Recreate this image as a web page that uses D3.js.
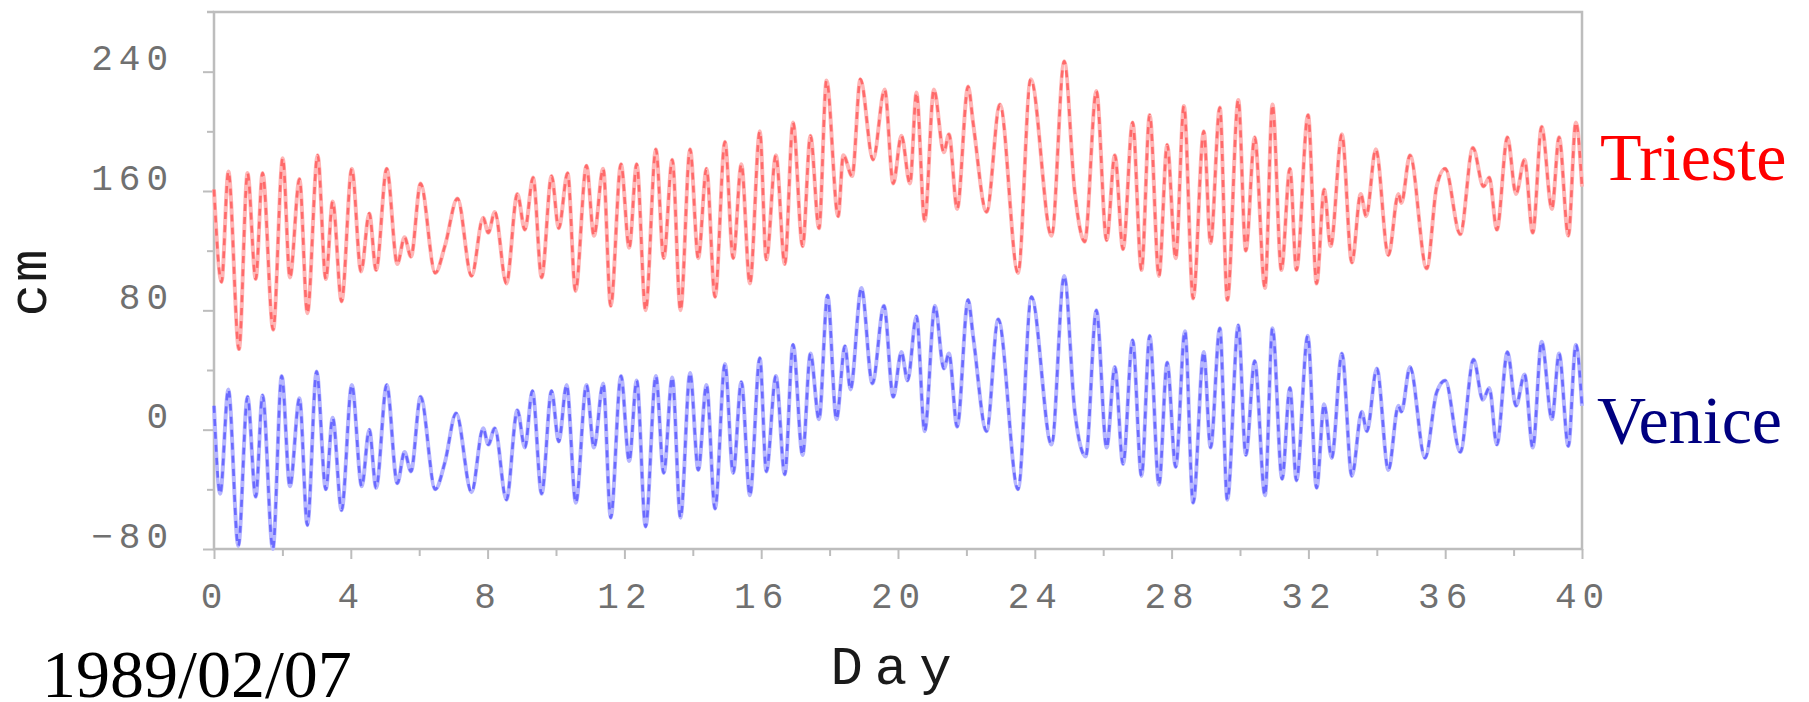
<!DOCTYPE html>
<html>
<head>
<meta charset="utf-8">
<title>Trieste / Venice sea level</title>
<script src="https://d3js.org/d3.v7.min.js"></script>
<style>
body { margin: 0; background: #fff; }
svg { display: block; }
.tick-label { font-family: "Liberation Mono", monospace; font-size: 36px; fill: #707070; letter-spacing: 6px; }
.axis-title { font-family: "Liberation Mono", monospace; fill: #1a1a1a; }
.station { font-family: "Liberation Serif", "Times New Roman", serif; font-size: 68px; }
</style>
</head>
<body>
<script>
// turning points (day, cm)
var triesteDay = [0.0,0.22,0.42,0.73,0.98,1.22,1.42,1.73,2.01,2.22,2.5,2.73,3.03,3.27,3.47,3.73,4.03,4.3,4.54,4.74,
  5.05,5.36,5.57,5.76,6.04,6.47,6.75,7.12,7.53,7.87,8.02,8.21,8.55,8.87,9.09,9.33,9.58,9.87,10.08,10.34,
  10.57,10.89,11.11,11.38,11.6,11.9,12.14,12.36,12.62,12.92,13.15,13.4,13.64,13.92,14.16,14.4,14.65,14.94,15.18,15.42,
  15.67,15.96,16.15,16.43,16.69,16.93,17.21,17.44,17.69,17.91,18.25,18.4,18.66,18.9,19.27,19.61,19.86,20.1,20.35,20.54,
  20.78,21.05,21.34,21.49,21.73,22.05,22.2,22.59,22.98,23.51,23.88,24.49,24.86,25.17,25.46,25.8,26.1,26.34,26.58,26.86,
  27.12,27.36,27.63,27.87,28.12,28.36,28.63,28.94,29.14,29.41,29.63,29.95,30.17,30.43,30.73,30.95,31.21,31.46,31.65,31.99,
  32.24,32.46,32.65,32.98,33.27,33.53,33.69,33.97,34.34,34.63,34.72,34.97,35.46,35.75,36.0,36.44,36.81,37.12,37.29,37.51,
  37.82,38.07,38.32,38.56,38.82,39.12,39.33,39.6,39.82,40.0];
var triesteCm = [161,99,173,54,172,101,172,67,182,102,168,78,184,101,153,86,175,106,145,107,
  175,111,129,116,165,105,123,155,103,142,132,146,98,158,134,169,102,170,135,172,
  93,177,130,175,83,178,122,178,80,188,115,181,80,188,115,175,89,193,115,178,
  98,200,114,184,111,206,123,197,135,234,143,184,170,235,181,228,165,197,165,226,
  140,228,186,198,148,230,205,146,218,105,235,130,247,159,126,227,127,184,121,206,
  107,211,103,191,115,217,88,200,125,216,87,221,120,196,95,218,107,175,107,211,
  98,161,123,198,112,158,143,188,117,158,152,184,108,163,175,131,189,163,169,134,
  196,158,181,132,203,148,196,130,206,163];

var veniceDay = [0.0,0.18,0.42,0.71,0.98,1.22,1.42,1.72,1.98,2.22,2.5,2.73,3.0,3.27,3.47,3.73,4.03,4.32,4.54,4.74,
  5.05,5.36,5.57,5.76,6.04,6.47,6.75,7.08,7.53,7.87,8.02,8.21,8.55,8.87,9.09,9.31,9.58,9.87,10.08,10.31,
  10.58,10.89,11.11,11.38,11.6,11.9,12.14,12.36,12.62,12.92,13.15,13.4,13.64,13.92,14.16,14.4,14.65,14.94,15.18,15.42,
  15.67,15.96,16.15,16.43,16.69,16.93,17.21,17.44,17.69,17.94,18.2,18.45,18.61,18.93,19.25,19.59,19.86,20.1,20.28,20.54,
  20.78,21.08,21.34,21.49,21.73,22.05,22.2,22.59,22.93,23.51,23.9,24.49,24.86,25.17,25.49,25.8,26.1,26.34,26.58,26.86,
  27.12,27.36,27.63,27.87,28.12,28.39,28.63,28.94,29.14,29.41,29.63,29.95,30.17,30.43,30.73,30.95,31.23,31.46,31.65,31.98,
  32.24,32.46,32.68,32.98,33.27,33.56,33.71,34.0,34.34,34.63,34.72,34.97,35.41,35.75,36.0,36.44,36.83,37.1,37.29,37.51,
  37.82,38.07,38.32,38.56,38.82,39.12,39.33,39.6,39.82,40.0];
var veniceCm = [16,-43,27,-78,22,-45,23,-80,36,-38,21,-64,39,-40,8,-54,30,-38,0,-39,
  30,-36,-15,-28,22,-40,-22,11,-42,1,-10,1,-47,13,-12,26,-43,26,-8,30,
  -49,30,-12,31,-59,36,-21,33,-65,36,-29,35,-59,38,-27,30,-53,44,-29,32,
  -44,48,-28,36,-30,57,-17,51,7,90,7,56,27,95,31,83,22,52,33,76,
  -1,83,41,51,2,87,62,-1,74,-40,89,-10,103,12,-18,80,-12,42,-23,60,
  -31,63,-37,45,-25,66,-49,52,-12,68,-47,70,-17,46,-44,68,-33,28,-34,63,
  -39,17,-19,51,-31,12,-1,41,-27,16,12,42,-19,25,33,-15,47,20,28,-10,
  52,16,37,-12,59,7,51,-11,57,16];

var xMajor = [0,4,8,12,16,20,24,28,32,36,40];
var xMinor = [2,6,10,14,18,22,26,30,34,38];
var yMajor = [-80,0,80,160,240];
var yMinor = [-40,40,120,200];

var W = 1809, H = 702;
var plotL = 214, plotR = 1582, plotT = 12, plotB = 549;
var axisCol = "#bdbdbd";

var x = d3.scaleLinear().domain([0, 40]).range([plotL, plotR]);
var y = d3.scaleLinear().domain([-80, 280]).range([plotB, plotT]);

var svg = d3.select("body").append("svg")
    .attr("width", W)
    .attr("height", H);

// y axis: short minor ticks, longer labelled majors
svg.append("g")
    .attr("transform", "translate(" + plotL + ",0)")
    .call(d3.axisLeft(y).tickValues(yMinor).tickSize(7).tickFormat(""))
    .call(function(g) { g.select(".domain").remove(); });
var yAx = svg.append("g")
    .attr("transform", "translate(" + plotL + ",0)")
    .call(d3.axisLeft(y).tickValues(yMajor).tickSize(11))
    .call(function(g) { g.select(".domain").remove(); });
yAx.selectAll("text")
    .attr("class", "tick-label")
    .attr("text-anchor", "end")
    .attr("x", -40).attr("y", -2).attr("dy", 0);

// x axis
svg.append("g")
    .attr("transform", "translate(0," + plotB + ")")
    .call(d3.axisBottom(x).tickValues(xMinor).tickSize(7).tickFormat(""))
    .call(function(g) { g.select(".domain").remove(); });
var xAx = svg.append("g")
    .attr("transform", "translate(0," + plotB + ")")
    .call(d3.axisBottom(x).tickValues(xMajor).tickSize(10))
    .call(function(g) { g.select(".domain").remove(); });
xAx.selectAll("text")
    .attr("class", "tick-label")
    .attr("text-anchor", "middle")
    .attr("x", 0).attr("y", 59).attr("dy", 0);

svg.selectAll("g").attr("font-family", null).attr("font-size", null);
svg.selectAll(".tick text").attr("fill", null);
svg.selectAll(".tick line").attr("stroke", axisCol).attr("stroke-width", 2);

// frame
svg.append("rect")
    .attr("x", plotL).attr("y", plotT)
    .attr("width", plotR - plotL).attr("height", plotB - plotT)
    .attr("fill", "none").attr("stroke", axisCol).attr("stroke-width", 2.5);
svg.append("line")
    .attr("x1", plotL - 7).attr("x2", plotL).attr("y1", plotT).attr("y2", plotT)
    .attr("stroke", axisCol).attr("stroke-width", 2.5);

var line = d3.line()
    .x(function(d) { return x(d[0]); })
    .y(function(d) { return y(d[1]); })
    .curve(d3.curveMonotoneX);

var trieste = d3.zip(triesteDay, triesteCm);
var venice = d3.zip(veniceDay, veniceCm);

function drawSeries(data, light, dark) {
  svg.append("path").datum(data)
      .attr("d", line).attr("fill", "none")
      .attr("stroke", light).attr("stroke-width", 4)
      .attr("stroke-linejoin", "round");
  svg.append("path").datum(data)
      .attr("d", line).attr("fill", "none")
      .attr("stroke", dark).attr("stroke-width", 2.6)
      .attr("stroke-dasharray", "7 6");
}
drawSeries(trieste, "#ffb6b6", "#ff6a6a");
drawSeries(venice, "#b6b6ff", "#6a6aff");

// titles
svg.append("text")
    .attr("class", "axis-title")
    .attr("font-size", 54)
    .attr("letter-spacing", 2)
    .attr("text-anchor", "middle")
    .attr("transform", "translate(46,282) rotate(-90)")
    .text("cm");

svg.append("text")
    .attr("class", "axis-title")
    .attr("font-size", 54)
    .attr("letter-spacing", 12)
    .attr("text-anchor", "middle")
    .attr("x", x(20) - 1)
    .attr("y", 684)
    .text("Day");

svg.append("text")
    .attr("class", "station")
    .attr("x", 42).attr("y", 697)
    .attr("fill", "#000")
    .text("1989/02/07");

svg.append("text")
    .attr("class", "station")
    .attr("x", 1600).attr("y", 180)
    .attr("fill", "#ff0000")
    .text("Trieste");

svg.append("text")
    .attr("class", "station")
    .attr("x", 1597).attr("y", 443)
    .attr("fill", "#000080")
    .text("Venice");
</script>
</body>
</html>
